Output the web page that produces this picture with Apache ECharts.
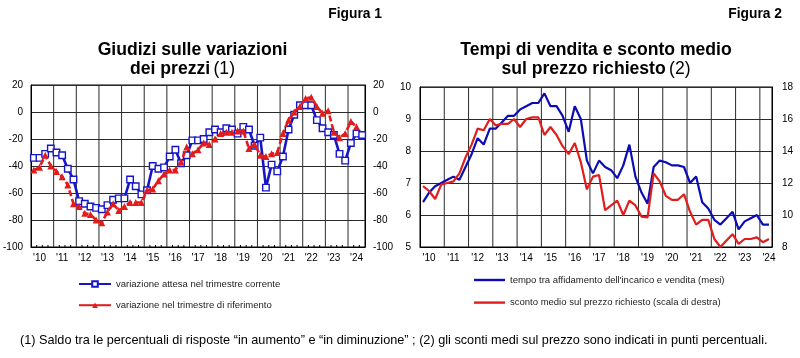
<!DOCTYPE html>
<html><head><meta charset="utf-8">
<script src="https://cdn.jsdelivr.net/npm/echarts@6/dist/echarts.min.js"></script>
<style>html,body{margin:0;padding:0;background:#fff}#c{width:800px;height:358px}</style>
</head><body><div id="c"></div>
<script>
const FONT = '"Liberation Sans", Arial, Helvetica, sans-serif';

const years = ['2010','2011','2012','2013','2014','2015','2016','2017','2018','2019','2020','2021','2022','2023','2024'];
const quarterNames = ['Q1','Q2','Q3','Q4'];
const allQuarters = [];
years.forEach(y => quarterNames.forEach(q => allQuarters.push(y + q)));
const quartersFig1 = allQuarters.slice(0, 59); // 2010Q1 .. 2024Q3
const quartersFig2 = allQuarters.slice(0, 58); // 2010Q1 .. 2024Q2

// Figura 1 – saldi (punti percentuali)
const expectedChange = [-34,-34,-31,-27,-30,-32,-42,-50,-66,-68, -70,-71,-72,-69,-65,-64,-64,-50,-55,-61,
  -58,-40,-42,-41,-33,-28,-38,-32,-21,-21, -20,-15,-13,-15,-12,-13,-16,-11,-13,-25,
  -19,-56,-39,-44,-33,-13,-2,5,5,5, -6,-12,-15,-17,-31,-36,-23,-16,-17];
const referenceChange = [-43,-41,-32,-40,-44,-48,-54,-68,-70,-75, -76,-80,-82,-74,-68,-73,-70,-67,-67,-67,
  -58,-57,-51,-46,-43,-43,-37,-26,-31,-28, -23,-24,-20,-16,-15,-15,-14,-14,-27,-24,
  -32,-33,-31,-30,-16,-6,0,4,10,11, 4,-1,1,-15,-19,-16,-7,-11];
// Figura 2
const saleTimeMonths = [6.4,6.7,6.9,7.0,7.1,7.2,7.1,7.5,7.9,8.4, 8.2,8.7,8.7,8.9,9.1,9.1,9.3,9.4,9.5,9.5,
  9.8,9.4,9.4,9.1,8.6,9.4,9.0,7.7,7.3,7.7, 7.5,7.4,7.15,7.55,8.2,7.2,6.7,6.35,7.5,7.7,
  7.65,7.55,7.55,7.5,7.0,7.2,6.4,6.2,5.85,5.7, 5.9,6.1,5.55,5.8,5.9,6.0,5.7,5.7];
const avgDiscount = [11.8,11.5,11.0,11.9,12.0,12.1,12.6,13.6,14.4,15.4, 15.3,16.0,15.6,15.7,15.7,16.0,15.5,16.0,16.1,16.1,
  15.0,15.5,15.0,14.3,13.8,14.5,13.3,11.6,12.4,12.5, 10.3,10.6,10.9,10.0,10.9,10.6,9.9,9.85,12.6,12.1,
  11.2,10.95,10.95,11.3,10.2,9.4,9.7,9.7,8.5,8.0, 8.4,8.8,8.2,8.5,8.5,8.6,8.3,8.5];

const names1 = ['variazione attesa nel trimestre corrente', 'variazione nel trimestre di riferimento'];
const names2 = ['tempo tra affidamento dell\'incarico e vendita (mesi)', 'sconto medio sul prezzo richiesto (scala di destra)'];

const BLUE1 = '#1616c8', RED1 = '#e31b1b', BLUE2 = '#0c0cb4', RED2 = '#e01e1e';
const GRIDC = '#2a2a2a';
const lbl = { fontSize: 10, color: '#000', fontFamily: FONT };

function xAxisCfg(gi, data) {
  return {
    type: 'category', gridIndex: gi, data: data, boundaryGap: true,
    axisLine: { show: true, onZero: false, lineStyle: { color: '#000', width: 1 } },
    axisTick: { show: false },
    axisLabel: Object.assign({ interval: (i) => i % 4 === 1, formatter: v => "'" + v.slice(2, 4), margin: 6 }, lbl),
    splitLine: { show: false }
  };
}
// hidden helper axis measuring the same quarter bands (0 .. n) for the year lines
function bandAxis(gi, n) {
  return { type: 'value', gridIndex: gi, min: 0, max: n, position: 'top', show: false,
    axisLine: { onZero: false }, splitLine: { show: false } };
}
function yAxisCfg(gi, min, max, step, pos, split, margin) {
  return {
    type: 'value', gridIndex: gi, min: min, max: max, interval: step, position: pos,
    axisLine: { show: true, onZero: false, lineStyle: { color: '#000' } }, axisTick: { show: false },
    axisLabel: Object.assign({ margin: margin }, lbl),
    splitLine: { show: split, lineStyle: { color: GRIDC, width: 1 } }
  };
}
// vertical segments at the start of each year (Q1 band boundary), broken by empty points
function yearSegments(cats, yMin, yMax) {
  const d = [];
  cats.forEach((c, i) => { if (i > 0 && c.endsWith('Q1')) { d.push([i, yMin], [i, yMax], [i, '-']); } });
  return d;
}
function quarterTickSegments(cats, yMin, len) {
  const d = [];
  cats.forEach((c, i) => { if (i > 0 && !c.endsWith('Q1')) { d.push([i, yMin], [i, yMin + len], [i, '-']); } });
  return d;
}
function segSeries(xIdx, yIdx, data, color) {
  return { type: 'line', xAxisIndex: xIdx, yAxisIndex: yIdx, data: data, symbol: 'none', silent: true,
    connectNulls: false, clip: false, z: 1, lineStyle: { color: color, width: 1 }, itemStyle: { color: color },
    emphasis: { disabled: true }, tooltip: { show: false } };
}

const chart = echarts.init(document.getElementById('c'), null, { renderer: 'canvas' });
chart.setOption({
  animation: false,
  backgroundColor: '#fff',
  textStyle: { fontFamily: FONT },
  grid: [
    { left: 30, top: 85, width: 335, height: 162, show: true, borderColor: '#000', borderWidth: 1 },
    { left: 420, top: 87, width: 352, height: 160, show: true, borderColor: '#000', borderWidth: 1 }
  ],
  xAxis: [xAxisCfg(0, quartersFig1), xAxisCfg(1, quartersFig2),
          bandAxis(0, quartersFig1.length), bandAxis(1, quartersFig2.length)],
  yAxis: [
    yAxisCfg(0, -100, 20, 20, 'left', true, 8),
    yAxisCfg(0, -100, 20, 20, 'right', false, 8),
    yAxisCfg(1, 5, 10, 1, 'left', true, 9),
    yAxisCfg(1, 8, 18, 2, 'right', false, 10)
  ],
  legend: [
    { data: names1, orient: 'vertical', left: 73, top: 274, itemWidth: 32, itemHeight: 7, itemGap: 11.2,
      lineStyle: { type: 'solid' },
      textStyle: { fontSize: 9.5, color: '#222', fontFamily: FONT }, selectedMode: false },
    { data: names2.map(n => ({ name: n, icon: 'rect' })), orient: 'vertical', left: 469, top: 270, itemWidth: 31, itemHeight: 2.4, itemGap: 12.6,
      textStyle: { fontSize: 9.5, color: '#222', fontFamily: FONT }, selectedMode: false }
  ],
  series: [
    segSeries(2, 0, yearSegments(quartersFig1, -100, 20), GRIDC),
    segSeries(2, 0, quarterTickSegments(quartersFig1, -100, 1.5), '#000'),
    segSeries(3, 2, yearSegments(quartersFig2, 5, 10), GRIDC),
    { name: names1[0], type: 'line', xAxisIndex: 0, yAxisIndex: 0, data: expectedChange, z: 3,
      symbol: 'rect', symbolSize: 6.5, showAllSymbol: true,
      itemStyle: { color: '#fff', borderColor: BLUE1, borderWidth: 1.4 },
      lineStyle: { color: BLUE1, width: 2.6 } },
    { name: names1[1], type: 'line', xAxisIndex: 0, yAxisIndex: 0, data: referenceChange, z: 4,
      symbol: 'triangle', symbolSize: 7, showAllSymbol: true,
      itemStyle: { color: RED1 },
      lineStyle: { color: RED1, width: 2.6, type: [6, 3] } },
    { name: names2[0], type: 'line', xAxisIndex: 1, yAxisIndex: 2, data: saleTimeMonths, z: 3,
      symbol: 'none', itemStyle: { color: BLUE2 }, lineStyle: { color: BLUE2, width: 2.2 } },
    { name: names2[1], type: 'line', xAxisIndex: 1, yAxisIndex: 3, data: avgDiscount, z: 4,
      symbol: 'none', itemStyle: { color: RED2 }, lineStyle: { color: RED2, width: 2.2 } }
  ],
  graphic: [
    { type: 'text', x: 382, y: 14, style: { text: 'Figura 1', textAlign: 'right', textVerticalAlign: 'middle', font: 'bold 13.8px ' + FONT, fill: '#000' } },
    { type: 'text', x: 782, y: 14, style: { text: 'Figura 2', textAlign: 'right', textVerticalAlign: 'middle', font: 'bold 13.8px ' + FONT, fill: '#000' } },
    { type: 'text', x: 192.5, y: 50, style: { text: 'Giudizi sulle variazioni', textAlign: 'center', textVerticalAlign: 'middle', font: 'bold 17.6px ' + FONT, fill: '#000' } },
    { type: 'text', x: 182.5, y: 69, style: { text: '{b|dei prezzi} {n|(1)}', textAlign: 'center', textVerticalAlign: 'middle',
        rich: { b: { fontWeight: 'bold', fontSize: 17.6, fontFamily: FONT, fill: '#000' }, n: { fontSize: 17.6, fontFamily: FONT, fill: '#000' } } } },
    { type: 'text', x: 596, y: 50, style: { text: 'Tempi di vendita e sconto medio', textAlign: 'center', textVerticalAlign: 'middle', font: 'bold 17.6px ' + FONT, fill: '#000' } },
    { type: 'text', x: 596, y: 69, style: { text: '{b|sul prezzo richiesto} {n|(2)}', textAlign: 'center', textVerticalAlign: 'middle',
        rich: { b: { fontWeight: 'bold', fontSize: 17.6, fontFamily: FONT, fill: '#000' }, n: { fontSize: 17.6, fontFamily: FONT, fill: '#000' } } } },
    { type: 'text', x: 20, y: 340, style: { text: '(1) Saldo tra le percentuali di risposte \u201cin aumento\u201d e \u201cin diminuzione\u201d ; (2) gli sconti medi sul prezzo sono indicati in punti percentuali.',
        textAlign: 'left', textVerticalAlign: 'middle', font: '12.7px ' + FONT, fill: '#000' } }
  ]
});
</script></body></html>
